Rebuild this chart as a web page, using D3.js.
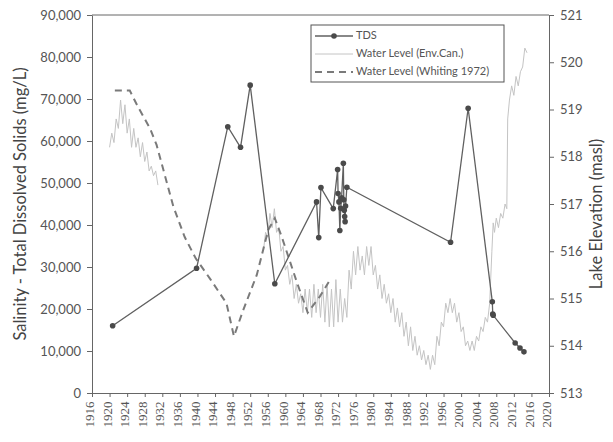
<!DOCTYPE html>
<html><head><meta charset="utf-8">
<script src="https://cdn.jsdelivr.net/npm/d3@7"></script>
<style>
body{margin:0;background:#fff;}
svg{display:block;}
</style></head>
<body>
<svg id="chart" width="613" height="442"></svg>
<script>
// ---- data ----
const tdsYears = [1920.7, 1939.8, 1946.9, 1949.8, 1952.0, 1957.6, 1967.1, 1967.6, 1968.1, 1970.9,
  1971.9, 1972.0, 1972.2, 1972.4, 1972.6, 1972.8, 1973.2, 1973.3, 1973.4, 1973.5, 1973.6, 1973.7, 1974.0,
  1997.6, 2001.6, 2007.1, 2007.2, 2007.3, 2012.3, 2013.4, 2014.3];
const tdsValues = [16000, 29700, 63400, 58500, 73300, 26000, 45500, 37000, 48900, 43900,
  53200, 47500, 45500, 38700, 44000, 46500, 54700, 46000, 43500, 42000, 40800, 44500, 49000,
  35900, 67800, 21700, 18800, 18500, 11900, 10700, 9800];

const whitingYears = [1921.2, 1924.6, 1926.5, 1929.2, 1930.7, 1932.6, 1934.5, 1937.1, 1939.6, 1943.0,
  1946.6, 1948.3, 1950.4, 1953.5, 1956.1, 1957.6, 1959.2, 1962.6, 1965.1, 1967.9, 1970.2];
const whitingLevels = [519.4, 519.4, 519.05, 518.6, 518.25, 517.6, 516.95, 516.3, 515.85, 515.4,
  514.9, 514.2, 514.75, 515.5, 516.45, 516.7, 516.3, 515.35, 514.7, 515.05, 515.4];

const envYears = [1920.0, 1920.5, 1921.0, 1921.5, 1922.0, 1922.5, 1923.0, 1923.5, 1924.0, 1924.5,
  1925.0, 1925.5, 1926.0, 1926.5, 1927.0, 1927.5, 1928.0, 1928.5, 1929.0, 1929.5, 1930.0, 1930.5, 1931.0,
  null,
  1955.0, 1955.5, 1956.0, 1956.5, 1957.0, 1957.5, 1958.0, 1958.5, 1959.0, 1959.5, 1960.0, 1960.5,
  1961.0, 1961.5, 1962.0, 1962.5, 1963.0, 1963.5, 1964.0, 1964.5, 1965.0, 1965.5, 1966.0, 1966.5,
  1967.0, 1967.5, 1968.0, 1968.5, 1969.0, 1969.5, 1970.0, 1970.5, 1971.0, 1971.5, 1972.0, 1972.5,
  1973.0, 1973.5, 1974.0, 1974.5, 1975.0, 1975.5, 1976.0, 1976.5, 1977.0, 1977.5, 1978.0, 1978.5,
  1979.0, 1979.5, 1980.0, 1980.5, 1981.0, 1981.5, 1982.0, 1982.5, 1983.0, 1983.5, 1984.0, 1984.5,
  1985.0, 1985.5, 1986.0, 1986.5, 1987.0, 1987.5, 1988.0, 1988.5, 1989.0, 1989.5, 1990.0, 1990.5,
  1991.0, 1991.5, 1992.0, 1992.5, 1993.0, 1993.5, 1994.0, 1994.5, 1995.0, 1995.5, 1996.0, 1996.5,
  1997.0, 1997.5, 1998.0, 1998.5, 1999.0, 1999.5, 2000.0, 2000.5, 2001.0, 2001.5, 2002.0, 2002.5,
  2003.0, 2003.5, 2004.0, 2004.5, 2005.0, 2005.5, 2006.0, 2006.5, 2007.0, 2007.3, 2007.6, 2008.0,
  2008.5, 2009.0, 2009.5, 2010.0, 2010.4, 2010.6, 2011.0, 2011.5, 2012.0, 2012.5, 2013.0, 2013.5,
  2014.0, 2014.5, 2015.0];
const envLevels = [518.2, 518.5, 518.3, 518.8, 518.6, 519.2, 518.7, 519.1, 518.5, 518.8,
  518.2, 518.6, 518.2, 518.4, 518.0, 518.3, 517.9, 518.1, 517.7, 517.8, 517.6, 517.7, 517.4,
  null,
  516.0, 516.4, 516.3, 516.8, 516.5, 516.9, 516.4, 516.5, 516.0, 516.1, 515.6, 515.7,
  515.3, 515.5, 515.0, 515.3, 514.9, 515.1, 514.7, 515.2, 514.7, 515.2, 514.6, 515.3,
  514.7, 515.2, 514.6, 515.3, 514.5, 515.3, 514.4, 515.2, 514.4, 515.4, 514.5, 515.2,
  514.5, 515.0, 514.6, 515.6, 515.2, 516.0, 515.5, 516.1, 515.6, 515.9, 515.5, 516.1,
  515.7, 516.1, 515.5, 515.7, 515.2, 515.5, 515.0, 515.3, 514.9, 515.1, 514.7, 515.0,
  514.5, 514.8, 514.4, 514.7, 514.2, 514.5, 514.0, 514.4, 513.9, 514.2, 513.8, 514.0,
  513.7, 513.9, 513.6, 513.8, 513.5, 513.8, 513.6, 514.2, 514.0, 514.5, 514.4, 514.9,
  514.7, 515.0, 514.7, 514.9, 514.5, 514.7, 514.3, 514.4, 514.0, 514.1, 513.9, 514.1,
  513.9, 514.2, 514.1, 514.4, 514.3, 514.6, 514.5, 514.9, 516.0, 516.6, 516.4, 516.7,
  516.5, 516.8, 516.7, 517.0, 516.9, 518.8, 519.2, 519.5, 519.3, 519.7, 519.5, 519.8,
  519.9, 520.3, 520.2];

const xTicks = d3.range(1916, 2021, 4);
const leftTicks = d3.range(0, 90001, 10000);
const rightTicks = d3.range(513, 522, 1);
const legendLabels = ["TDS", "Water Level (Env.Can.)", "Water Level (Whiting 1972)"];
const leftTitle = "Salinity - Total Dissolved Solids (mg/L)";
const rightTitle = "Lake Elevation (masl)";

// ---- drawing ----
const svg = d3.select("#chart");
const L = 92, R = 549, T = 15, B = 393;
const x = d3.scaleLinear().domain([1916, 2020]).range([L, R]);
const yL = d3.scaleLinear().domain([0, 90000]).range([B, T]);
const yR = d3.scaleLinear().domain([513, 521]).range([B, T]);

const axisColor = "#666";
const textColor = "#555";
const sans = "Lato, 'Open Sans', sans-serif";

// Env.Can. line
const envData = envYears.map((yr, i) => ({yr, v: envLevels[i]}));
svg.append("path")
  .attr("d", d3.line().defined(d => d.yr !== null).x(d => x(d.yr)).y(d => yR(d.v))(envData))
  .attr("fill", "none").attr("stroke", "#c4c4c4").attr("stroke-width", 1);

// Whiting dashed
const whData = whitingYears.map((yr, i) => ({yr, v: whitingLevels[i]}));
svg.append("path")
  .attr("d", d3.line().x(d => x(d.yr)).y(d => yR(d.v))(whData))
  .attr("fill", "none").attr("stroke", "#7a7a7a").attr("stroke-width", 2)
  .attr("stroke-dasharray", "7,5");

// TDS line + markers
const tdsData = tdsYears.map((yr, i) => ({yr, v: tdsValues[i]}));
svg.append("path")
  .attr("d", d3.line().x(d => x(d.yr)).y(d => yL(d.v))(tdsData))
  .attr("fill", "none").attr("stroke", "#606060").attr("stroke-width", 1.3);
svg.append("g").selectAll("circle").data(tdsData).join("circle")
  .attr("cx", d => x(d.yr)).attr("cy", d => yL(d.v)).attr("r", 2.8)
  .attr("fill", "#4a4a4a");

// frame top line
svg.append("line").attr("x1", L).attr("x2", R).attr("y1", T).attr("y2", T)
  .attr("stroke", axisColor).attr("stroke-width", 1);

// axes
function styleAxis(g) {
  g.select(".domain").attr("stroke", axisColor);
  g.selectAll(".tick line").attr("stroke", axisColor);
  g.selectAll(".tick text").attr("fill", textColor);
}
const gL = svg.append("g").attr("transform", `translate(${L},0)`)
  .call(d3.axisLeft(yL).tickValues(leftTicks).tickFormat(d3.format(",")).tickSize(5).tickSizeOuter(0).tickPadding(6));
gL.selectAll(".tick text").attr("font-family", sans).attr("font-size", 13);
styleAxis(gL);

const gR = svg.append("g").attr("transform", `translate(${R},0)`)
  .call(d3.axisRight(yR).tickValues(rightTicks).tickFormat(d3.format("d")).tickSize(5).tickSizeOuter(0).tickPadding(6));
gR.selectAll(".tick text").attr("font-family", sans).attr("font-size", 13);
styleAxis(gR);

const gB = svg.append("g").attr("transform", `translate(0,${B})`)
  .call(d3.axisBottom(x).tickValues(xTicks).tickFormat(d3.format("d")).tickSize(4).tickSizeOuter(0));
gB.selectAll(".tick text")
  .attr("font-family", "'Liberation Serif', serif").attr("font-size", 13)
  .attr("transform", "rotate(-90)")
  .attr("text-anchor", "end").attr("dx", "-0.35em").attr("dy", "-0.1em")
  .attr("x", -4).attr("y", 0)
  .style("dominant-baseline", "middle");
styleAxis(gB);

// axis titles
svg.append("text").text(leftTitle)
  .attr("transform", `translate(22,${(T + B) / 2}) rotate(-90)`)
  .attr("text-anchor", "middle").attr("dominant-baseline", "middle")
  .attr("font-family", sans).attr("font-size", 16.5).attr("fill", "#444");
svg.append("text").text(rightTitle)
  .attr("transform", `translate(598,${(T + B) / 2 + 10}) rotate(-90)`)
  .attr("text-anchor", "middle").attr("dominant-baseline", "middle")
  .attr("font-family", sans).attr("font-size", 16.5).attr("fill", "#444");

// legend
const lg = svg.append("g").attr("transform", "translate(311,25)");
lg.append("rect").attr("width", 193).attr("height", 57)
  .attr("fill", "#fff").attr("stroke", "#555").attr("stroke-width", 1);
const rows = [11, 29, 47];
legendLabels.forEach((lab, i) => {
  const ry = rows[i];
  const line = lg.append("line").attr("x1", 4).attr("x2", 42).attr("y1", ry).attr("y2", ry);
  if (i === 0) {
    line.attr("stroke", "#606060").attr("stroke-width", 1.3);
    lg.append("circle").attr("cx", 23).attr("cy", ry).attr("r", 2.8).attr("fill", "#4a4a4a");
  } else if (i === 1) {
    line.attr("stroke", "#c4c4c4").attr("stroke-width", 1);
  } else {
    line.attr("stroke", "#7a7a7a").attr("stroke-width", 2).attr("stroke-dasharray", "7,5");
  }
  lg.append("text").text(lab).attr("x", 45).attr("y", ry)
    .attr("dominant-baseline", "middle")
    .attr("font-family", sans).attr("font-size", 11).attr("fill", textColor);
});
</script>
</body></html>
